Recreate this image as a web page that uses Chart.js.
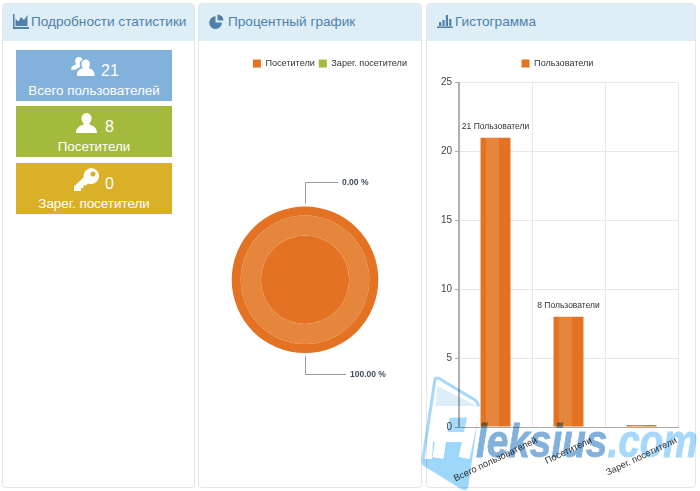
<!DOCTYPE html>
<html lang="ru">
<head>
    <meta charset="UTF-8">
    <title>Статистика</title>
    <script src="https://cdn.jsdelivr.net/npm/chart.js"></script>
    <style>
        html, body { margin: 0; padding: 0; background: #fff; }
        body { position: relative; width: 700px; height: 491px; overflow: hidden; font-family: 'Liberation Sans', sans-serif; }
        .panel { position: absolute; top: 3px; height: 483px; border: 1px solid #e6e6e6; border-radius: 4px; box-sizing: content-box; background: #fff; overflow: hidden; }
        .panel-head { position: absolute; left: 0; right: 0; top: 0; height: 37px; background: #deeef7; color: #4f80aa; font-size: 13.6px; line-height: 36px; white-space: nowrap; }
        .panel-head svg { position: absolute; top: 10px; fill: #4f80aa; }
        .panel-head span { position: absolute; top: 0; }
        .tile { position: absolute; left: 16px; width: 156px; height: 51px; color: #fff; text-align: center; }
        .tile svg { position: absolute; fill: #fff; }
        .tile .num { position: absolute; top: 11px; font-size: 16px; line-height: 20px; }
        .tile .name { position: absolute; left: 0; right: 0; top: 32px; font-size: 13.4px; line-height: 17px; }
        canvas { position: absolute; display: block; }
        #mark { position: absolute; left: 415px; top: 370px; mix-blend-mode: multiply; pointer-events: none; }
    </style>
</head>
<body>
    <div class="panel" style="left:2px;width:191px">
        <div class="panel-head">
            <svg style="left:10px" width="16" height="15" viewBox="0 0 16 15"><path d="M0 0h1.500v13H16v2H0z"/><path d="M2.500 12V5l3 2.500L8 3l3 3 3.500-5v11z"/></svg>
            <span style="left:28px">Подробности статистики</span>
        </div>
    </div>
    <div class="panel" style="left:198px;width:222px">
        <div class="panel-head">
            <svg style="left:10px" width="15" height="15" viewBox="0 0 15 15"><path d="M6.500 2.200A6.400 6.400 0 1 0 13 8.600H6.500z"/><path d="M8.500 0.400a6 6 0 0 1 6 6h-6z"/></svg>
            <span style="left:29px">Процентный график</span>
        </div>
    </div>
    <div class="panel" style="left:426px;width:268px">
        <div class="panel-head">
            <svg style="left:10px" width="16" height="15" viewBox="0 0 16 15"><path d="M0 12.500h16V14H0z"/><path d="M2 8h2.200v4H2zM5.400 6h2.200v6H5.400zM8.800 1h2.200v11H8.800zM12.200 5h2.200v7h-2.200z"/></svg>
            <span style="left:28px">Гистограмма</span>
        </div>
    </div>

    <div class="tile" style="top:49.5px;background:#82b1dc">
        <svg style="left:55px;top:6px" width="24" height="22" viewBox="0 0 24 22"><path d="M8 1a4 4 0 0 1 3.600 2.400A6 6 0 0 0 9.400 11c-2 .6-4 1.600-4.500 2.800H0c0-3 2-4.600 5.300-5.600A5.600 5.600 0 0 1 4 4.500 4 4 0 0 1 8 1z"/><path d="M14.500 3.500a4.500 4.500 0 0 1 4.500 5 6 6 0 0 1-1.500 3.500c3.500 1 6 3 6 6.500v1.500H6v-1.500c0-3.500 2.500-5.500 6-6.500a6 6 0 0 1-1.500-3.500 4.500 4.500 0 0 1 4-5z"/></svg>
        <span class="num" style="left:85px">21</span>
        <span class="name">Всего пользователей</span>
    </div>
    <div class="tile" style="top:106px;background:#a3ba3d">
        <svg style="left:60px;top:7px" width="21" height="20" viewBox="0 0 21 20"><path d="M10.500 0a5 5 0 0 1 5 5.500c0 2-1 3.500-2 4.500v1.500c3 1 7.500 2.500 7.500 8.500H0c0-6 4.500-7.500 7.500-8.500V10c-1-1-2-2.500-2-4.500a5 5 0 0 1 5-5.500z"/></svg>
        <span class="num" style="left:89px">8</span>
        <span class="name">Посетители</span>
    </div>
    <div class="tile" style="top:162.500px;background:#dab028">
        <svg style="left:58px;top:5px" width="25" height="23" viewBox="0 0 25 23"><path fill-rule="evenodd" d="M17 0a8 8 0 1 1-3 15.400L12 17.500h-2.500V20H7v3H0v-4.500l9.700-9.200A8 8 0 0 1 17 0zm2 3.500a2.500 2.500 0 1 0 0 5 2.500 2.500 0 0 0 0-5z"/></svg>
        <span class="num" style="left:89px">0</span>
        <span class="name">Зарег. посетители</span>
    </div>

    <canvas id="pieChart" width="212" height="445" style="left:199px;top:41px"></canvas>
    <canvas id="barChart" width="254" height="445" style="left:437px;top:41px"></canvas>

    <svg id="mark" width="285" height="121" viewBox="0 0 285 121">
        <path d="M20 9 Q22 7 25 9 L60 30 Q64 33 63 37 L52 116 Q51 120 47 118 L10 95 Q7 93 8 89z" fill="#fff" stroke="#a5d8fb" stroke-width="3" stroke-linejoin="round"/>
        <path d="M22 16 62 36 L21 36z" fill="#dceefa"/>
        <path d="M25 46 57 46 53 62 22 62z" fill="#a8dafb"/>
        <path d="M18 72 54 72 51 90 17 90z" fill="#9dd8fb"/>
        <path d="M9 89 56 88 52 116 Q51 120 47 118 L10 95 Q7 93 9 89z" fill="#9dd8fb"/>
        <path d="M23 88 L29 48 Q30 42 37 42 L59 42 L49 88" fill="none" stroke="#fff" stroke-width="11"/>
        <path d="M25 67 L54 67" fill="none" stroke="#fff" stroke-width="10"/>
        <text transform="translate(61,87) scale(1.02,1.2)" font-family="'Liberation Sans'" font-weight="bold" font-style="italic" font-size="38" fill="#82b1dc" stroke="#82b1dc" stroke-width="0.7">leksius<tspan fill="#a5d8fb" stroke="#a5d8fb">.com</tspan></text>
    </svg>

    <script>
        var categories = ['Всего пользователей', 'Посетители', 'Зарег. посетители'];
        var userCounts = [21, 8, 0];
        var barSeriesName = 'Пользователи';
        var yTicks = [0, 5, 10, 15, 20, 25];
        var pieLabels = ['Посетители', 'Зарег. посетители'];
        var pieValues = [8, 0];

        var ORANGE = '#e37222', ORANGE_LIGHT = '#e6863c', GREEN = '#a3ba3d';

        // bar with a lighter stripe a bit left of centre
        function barFill(context) {
            if (context.type !== 'data') return ORANGE;
            var cx = context.chart.scales.x.getPixelForValue(context.dataIndex);
            var g = context.chart.ctx.createLinearGradient(cx - 15, 0, cx + 15, 0);
            g.addColorStop(0, ORANGE);
            g.addColorStop(0.17, ORANGE);
            g.addColorStop(0.17, ORANGE_LIGHT);
            g.addColorStop(0.63, ORANGE_LIGHT);
            g.addColorStop(0.63, ORANGE);
            g.addColorStop(1, ORANGE);
            return g;
        }

        // leader lines + percent text for the pie
        var pieCallouts = {
            id: 'pieCallouts',
            afterDraw: function(chart) {
                var ctx = chart.ctx;
                var arcs = chart.getDatasetMeta(0).data;
                var total = pieValues.reduce(function(a, b) { return a + b; }, 0);
                ctx.save();
                ctx.font = 'bold 8.5px "Liberation Sans"';
                ctx.textBaseline = 'middle';
                arcs.forEach(function(arc, i) {
                    var mid = (arc.startAngle + arc.endAngle) / 2;
                    var r = arc.outerRadius;
                    var up = Math.sin(mid) < 0 ? -1 : 1;
                    var x = arc.x + Math.cos(mid) * r;
                    var y0 = arc.y + Math.sin(mid) * (r + 3);
                    var y1 = y0 + up * (up < 0 ? 22 : 18);
                    var text = (pieValues[i] / total * 100).toFixed(2) + ' %';
                    var leg = up < 0 ? 33 : 41;
                    ctx.strokeStyle = '#999';
                    ctx.lineWidth = 1;
                    ctx.beginPath();
                    ctx.moveTo(Math.round(x) + 0.5, y0);
                    ctx.lineTo(Math.round(x) + 0.5, Math.round(y1) + 0.5);
                    ctx.lineTo(Math.round(x) + leg, Math.round(y1) + 0.5);
                    ctx.stroke();
                    ctx.fillStyle = '#3f4f5f';
                    ctx.fillText(text, Math.round(x) + leg + 4, Math.round(y1) + 0.5);
                });
                ctx.restore();
            }
        };

        // value captions over bars, and the slanted category labels centred on the tick
        var barLabels = {
            id: 'barLabels',
            beforeInit: function(chart) {
                // extra room between legend and plot
                var fit = chart.legend.fit;
                chart.legend.fit = function() {
                    fit.call(this);
                    this.height += 4.5;
                };
            },
            afterDraw: function(chart) {
                var ctx = chart.ctx;
                var xScale = chart.scales.x;
                var bars = chart.getDatasetMeta(0).data;
                var angle = 25.5 * Math.PI / 180;
                ctx.save();
                ctx.textAlign = 'center';
                ctx.textBaseline = 'middle';
                ctx.fillStyle = '#333';
                ctx.font = '8.5px "Liberation Sans"';
                bars.forEach(function(bar, i) {
                    if (!userCounts[i]) return;
                    ctx.fillText(userCounts[i] + ' ' + barSeriesName, bar.x, bar.y - 11);
                });
                ctx.font = '9.3px "Liberation Sans"';
                categories.forEach(function(name, i) {
                    var w = ctx.measureText(name).width;
                    var cx = xScale.getPixelForTick(i);
                    var cy = xScale.top + 13 + w * Math.sin(angle) / 2;
                    ctx.save();
                    ctx.translate(cx, cy);
                    ctx.rotate(-angle);
                    ctx.fillText(name, 0, 0);
                    ctx.restore();
                });
                ctx.restore();
            }
        };

        new Chart('pieChart', {
            type: 'doughnut',
            data: {
                labels: pieLabels,
                datasets: [
                    { data: pieValues, backgroundColor: [ORANGE, GREEN], borderWidth: 0, weight: 9 },
                    { data: pieValues, backgroundColor: [ORANGE_LIGHT, GREEN], borderWidth: 0, weight: 20 },
                    { data: pieValues, backgroundColor: [ORANGE, GREEN], borderWidth: 0, weight: 44 }
                ]
            },
            options: {
                responsive: false,
                animation: false,
                cutout: 0,
                radius: 73.3,
                layout: { padding: { top: 14, bottom: 4.5 } },
                plugins: {
                    tooltip: { enabled: false },
                    legend: {
                        position: 'top',
                        align: 'end',
                        labels: { boxWidth: 8, boxHeight: 8, padding: 4, color: '#333', font: { size: 9.1, family: 'Liberation Sans' } }
                    }
                }
            },
            plugins: [pieCallouts]
        });

        new Chart('barChart', {
            type: 'bar',
            data: {
                labels: categories,
                datasets: [
                    { label: barSeriesName, data: userCounts, backgroundColor: barFill, barPercentage: 0.41, categoryPercentage: 1, minBarLength: 2 }
                ]
            },
            options: {
                responsive: false,
                animation: false,
                layout: { padding: { top: 6.5, right: 13 } },
                plugins: {
                    tooltip: { enabled: false },
                    legend: {
                        position: 'top',
                        labels: {
                            boxWidth: 8, boxHeight: 8, padding: 11.5, color: '#333', font: { size: 9.1, family: 'Liberation Sans' },
                            generateLabels: function(chart) {
                                return [{ text: barSeriesName, fillStyle: ORANGE, strokeStyle: ORANGE, lineWidth: 0, fontColor: '#333', datasetIndex: 0 }];
                            }
                        }
                    }
                },
                scales: {
                    x: {
                        ticks: { display: false },
                        grid: { color: '#e8e8e8', drawTicks: false },
                        border: { color: '#aaa', width: 1 },
                        afterFit: function(scale) { scale.height = 59; }
                    },
                    y: {
                        min: yTicks[0],
                        max: yTicks[yTicks.length - 1],
                        ticks: { stepSize: 5, color: '#444', padding: 3, font: { size: 10, family: 'Liberation Sans' } },
                        grid: { color: '#e8e8e8', tickColor: '#aaa', tickLength: 4 },
                        border: { color: '#b0b0b0', width: 2 },
                        afterFit: function(scale) { scale.width = 22; }
                    }
                }
            },
            plugins: [barLabels]
        });
    </script>
</body>
</html>
